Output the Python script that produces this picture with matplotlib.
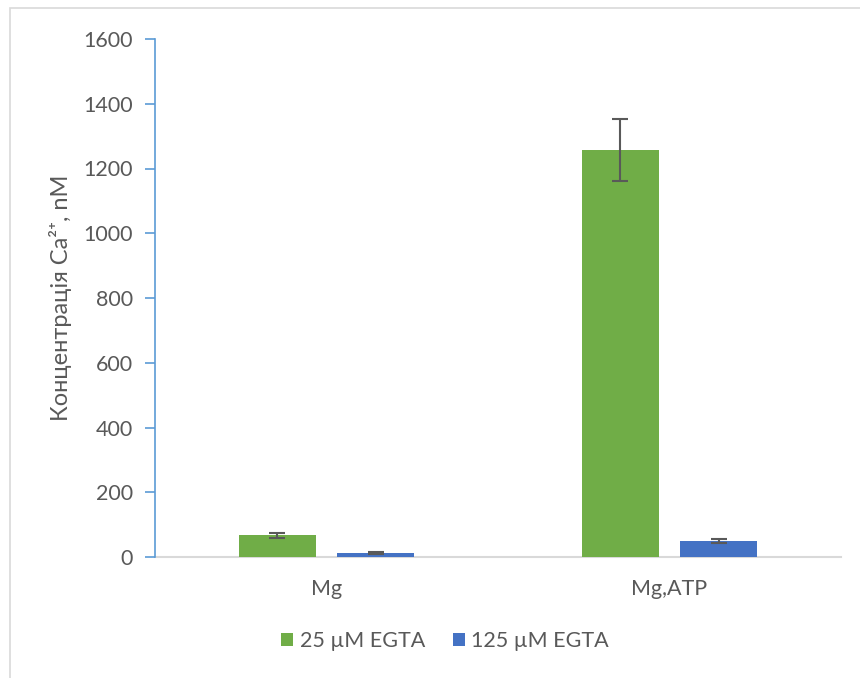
import matplotlib
matplotlib.use("Agg")
import matplotlib.pyplot as plt
from matplotlib.patches import Rectangle
import numpy as np

plt.rcParams['font.family'] = ['Lato', 'DejaVu Sans']

categories = ["Mg", "Mg,ATP"]
series_names = ["25 µM EGTA", "125 µM EGTA"]
egta25 = [67, 1257]
egta25_err = [8, 95]
egta125 = [12, 49]
egta125_err = [2, 7]
yticks = [0, 200, 400, 600, 800, 1000, 1200, 1400, 1600]

green = "#70AD47"
blue = "#4472C4"
text_col = "#595959"

W, H = 860, 678
fig = plt.figure(figsize=(W / 100, H / 100), dpi=100)

# outer chart frame
fig.patches.append(Rectangle((10 / W, -0.1), 1.2, (H - 8) / H + 0.1,
                             transform=fig.transFigure, fill=False,
                             edgecolor="#D9D9D9", linewidth=1.2))

left, right, top, bottom = 155, 841, 39, 557
ax = fig.add_axes([left / W, 1 - bottom / H, (right - left) / W, (bottom - top) / H])

x = np.arange(len(categories))
width = 0.2245
offset = 0.143
err_kw = dict(ecolor="#595959", elinewidth=1.5, capsize=5.5, capthick=1.5)
ax.bar(x - offset, egta25, width, color=green, yerr=egta25_err,
       error_kw=err_kw, label=series_names[0], zorder=2)
ax.bar(x + offset, egta125, width, color=blue, yerr=egta125_err,
       error_kw=err_kw, label=series_names[1], zorder=2)

ax.set_xlim(-0.5, len(categories) - 0.5)
ax.set_ylim(0, 1600)
ax.set_yticks(yticks)
ax.set_yticklabels([str(v) for v in yticks])
ax.set_xticks(x)
ax.set_xticklabels(categories)

for s in ["top", "right"]:
    ax.spines[s].set_visible(False)
ax.spines["left"].set_color("#5B9BD5")
ax.spines["left"].set_linewidth(1.2)
ax.spines["bottom"].set_color("#D9D9D9")
ax.spines["bottom"].set_linewidth(1.5)
ax.spines["bottom"].set_zorder(1)

ax.tick_params(axis="y", direction="out", length=7, width=1.2, color="#5B9BD5",
               labelsize=15.5, labelcolor=text_col, pad=9)
ax.tick_params(axis="x", length=0, labelsize=15.5, labelcolor=text_col, pad=16)

ax.set_ylabel("Концентрація Ca²⁺, nM", fontsize=17, color=text_col, labelpad=8)

leg = fig.legend(loc="center", bbox_to_anchor=(445 / W, 1 - 641 / H), ncol=2,
                 frameon=False, fontsize=15.5, handlelength=0.56, handleheight=0.56,
                 handletextpad=0.3, columnspacing=1.3)
for t in leg.get_texts():
    t.set_color(text_col)

fig.savefig("out.png", dpi=100)
